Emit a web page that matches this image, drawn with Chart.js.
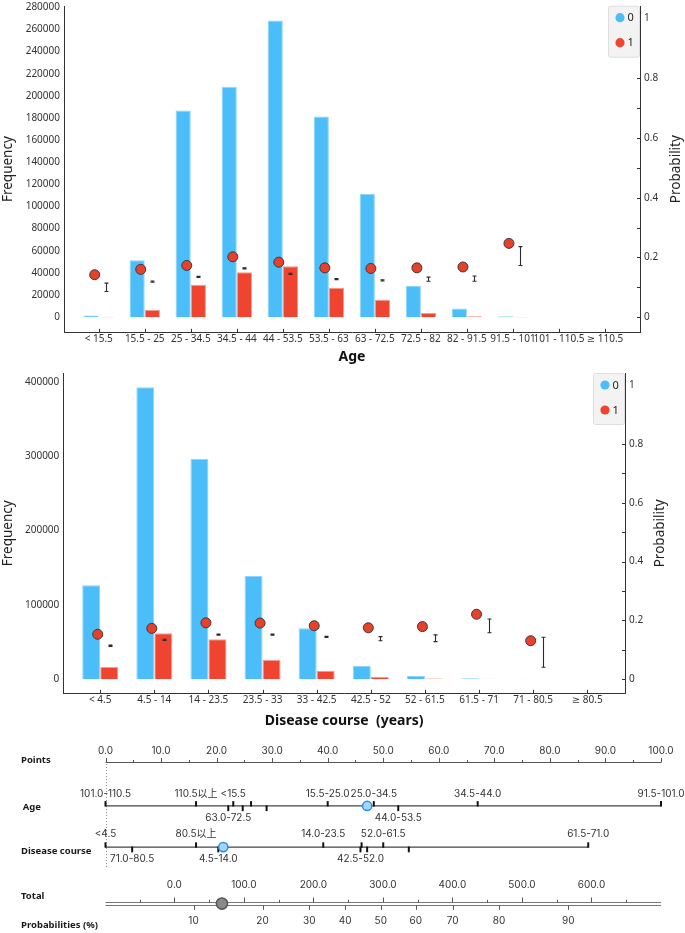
<!DOCTYPE html>
<html>
<head>
<meta charset="utf-8">
<script src="https://cdn.jsdelivr.net/npm/chart.js@4.4.1/dist/chart.umd.min.js"></script>
<style>
  html, body { margin:0; padding:0; background:#fff; }
  body { width:685px; height:933px; position:relative; overflow:hidden; }
  canvas { position:absolute; left:0; display:block; }
</style>
</head>
<body>
<canvas id="c1" width="685" height="365" style="top:0px"></canvas>
<canvas id="c2" width="685" height="365" style="top:365px"></canvas>
<canvas id="c3" width="685" height="203" style="top:730px"></canvas>
<script>
// ---------------- DATA ----------------
const ageCategories = ['< 15.5','15.5 - 25','25 - 34.5','34.5 - 44','44 - 53.5','53.5 - 63','63 - 72.5','72.5 - 82','82 - 91.5','91.5 - 101','101 - 110.5','≥ 110.5'];
const ageFreq0 = [1500, 51300, 186700, 208100, 268000, 181300, 111500, 28300, 7800, 700, 0, 0];
const ageFreq1 = [250, 6500, 29200, 40500, 45900, 26600, 15800, 3850, 900, 100, 0, 0];
const ageProb   = [0.142, 0.160, 0.173, 0.202, 0.184, 0.165, 0.163, 0.165, 0.168, 0.247, null, null];
const ageCILow  = [0.086, 0.117, 0.133, 0.161, 0.143, 0.125, 0.121, 0.120, 0.120, 0.173, null, null];
const ageCIHigh = [0.114, 0.121, 0.137, 0.165, 0.147, 0.129, 0.125, 0.134, 0.138, 0.236, null, null];
const ageFreqTicks = [0,20000,40000,60000,80000,100000,120000,140000,160000,180000,200000,220000,240000,260000,280000];

const courseCategories = ['< 4.5','4.5 - 14','14 - 23.5','23.5 - 33','33 - 42.5','42.5 - 52','52 - 61.5','61.5 - 71','71 - 80.5','≥ 80.5'];
const courseFreq0 = [126000, 392500, 296400, 138600, 68200, 17900, 4000, 1000, 200, 0];
const courseFreq1 = [16100, 61400, 53400, 25500, 11200, 2700, 600, 200, 50, 0];
const courseProb   = [0.153, 0.173, 0.192, 0.191, 0.182, 0.175, 0.179, 0.221, 0.131, null];
const courseCILow  = [0.112, 0.132, 0.150, 0.150, 0.142, 0.131, 0.128, 0.158, 0.041, null];
const courseCIHigh = [0.116, 0.136, 0.154, 0.154, 0.146, 0.145, 0.151, 0.205, 0.143, null];
const courseFreqTicks = [0, 100000, 200000, 300000, 400000];

const probTicks = [0, 0.2, 0.4, 0.6, 0.8, 1];
const probTickLabels = ['0','0.2','0.4','0.6','0.8','1'];
const probMinorTicks = [0.1, 0.3, 0.5, 0.7, 0.9];
const classLabels = ['0','1'];

// nomogram
const pointsTicks = [0,10,20,30,40,50,60,70,80,90,100];
const pointsMinorTicks = [5,15,25,35,45,55,65,75,85,95];
const ageNomoLabels = ['101.0-110.5','110.5以上','<15.5','63.0-72.5','','','','15.5-25.0','25.0-34.5','44.0-53.5','34.5-44.0','91.5-101.0'];
const ageNomoPoints = [0, 16.3, 23.0, 22.1, 24.7, 26.2, 29.0, 40.0, 48.3, 52.7, 67.0, 100];
const ageNomoSide   = ['up','up','up','down','down','up','down','up','up','down','up','up'];
const courseNomoLabels = ['<4.5','71.0-80.5','80.5以上','4.5-14.0','14.0-23.5','42.5-52.0','','','52.0-61.5','','61.5-71.0'];
const courseNomoPoints = [0, 4.8, 16.3, 20.3, 39.2, 45.9, 46.1, 47.1, 50.0, 54.6, 86.9];
const courseNomoSide   = ['up','down','up','down','up','down','up','down','up','down','up'];
const totalTicks = [0,100,200,300,400,500,600];
const totalMinorTicks = [-50,50,150,250,350,450,550,650];
const probPctLabels = [10,20,30,40,50,60,70,80,90];
const probPctAtTotal = [27.6,126.9,194,245.7,297,347.3,400.4,467,566.5];
const agePatientPoints = 47.1;
const coursePatientPoints = 21.2;
const patientTotal = 68.5;

// ---------------- STYLE ----------------
const FONT = '"Noto Sans", "DejaVu Sans", "Noto Sans CJK SC", sans-serif';
const NFONT = 'Inter, "DejaVu Sans", "Noto Sans CJK SC", sans-serif';
const BLUE = '#4bbdf8', RED = '#ee4430', RED_DOT = '#e8412b';
Chart.defaults.font.family = FONT;
Chart.defaults.color = '#333';

function distChart(id, o) {
  const plugin = {
    id: 'dist_' + id,
    afterDatasetsDraw(chart) {
      const ctx = chart.ctx, xs = chart.scales.x, ys = chart.scales.y1;
      ctx.save();
      ctx.strokeStyle = '#2a2a2a'; ctx.lineWidth = 1.1;
      o.lo.forEach((lo, i) => {
        const hi = o.hi[i];
        if (lo == null || hi == null) return;
        const x = Math.round(xs.getPixelForValue(i + o.errOff)) + 0.5;
        const y1 = ys.getPixelForValue(lo), y2 = ys.getPixelForValue(hi);
        ctx.beginPath();
        ctx.moveTo(x, y1); ctx.lineTo(x, y2);
        ctx.moveTo(x - 2, y1); ctx.lineTo(x + 2, y1);
        ctx.moveTo(x - 2, y2); ctx.lineTo(x + 2, y2);
        ctx.stroke();
      });
      ctx.restore();
    },
    afterDraw(chart) {
      const ctx = chart.ctx, xs = chart.scales.x, ys = chart.scales.y1, a = chart.chartArea;
      ctx.save();
      ctx.strokeStyle = '#333'; ctx.lineWidth = 1;
      ctx.beginPath();
      o.cats.forEach((c, i) => {
        const x = Math.round(xs.getPixelForValue(i)) + 0.5;
        ctx.moveTo(x, a.bottom); ctx.lineTo(x, a.bottom - 3.5);
      });
      probTicks.concat(probMinorTicks).forEach(v => {
        const y = Math.round(ys.getPixelForValue(v)) + 0.5;
        ctx.moveTo(a.right, y); ctx.lineTo(a.right - 3, y);
      });
      ctx.stroke();
      // right axis title
      ctx.save();
      ctx.translate(o.probTitleX, (a.top + a.bottom) / 2);
      ctx.rotate(-Math.PI / 2);
      ctx.fillStyle = '#222'; ctx.font = '13.5px ' + FONT;
      ctx.textAlign = 'center'; ctx.textBaseline = 'middle';
      ctx.fillText('Probability', 0, 0);
      ctx.restore();
      // legend
      const bw = 32, bh = 51, bx = a.right - bw, by = a.top - 0.3;
      ctx.fillStyle = '#f3f3f3'; ctx.strokeStyle = '#dedede';
      ctx.beginPath(); ctx.roundRect(bx + 0.5, by + 0.5, bw - 1, bh, 2); ctx.fill(); ctx.stroke();
      const cols = [BLUE, RED];
      chart.data.datasets.filter(d => d.type !== 'scatter').forEach((d, k) => {
        const cy = by + 12 + k * 25;
        ctx.fillStyle = cols[k];
        ctx.beginPath(); ctx.arc(bx + 12, cy, 4.6, 0, Math.PI * 2); ctx.fill();
        ctx.fillStyle = '#222'; ctx.font = '11px ' + FONT;
        ctx.textAlign = 'left'; ctx.textBaseline = 'middle';
        ctx.fillText(d.label, bx + 19.5, cy + 0.5);
      });
      ctx.restore();
    }
  };
  return new Chart(document.getElementById(id), {
    type: 'bar',
    data: {
      datasets: [
        { type: 'scatter', label: 'p', yAxisID: 'y1', xAxisID: 'x', order: 0,
          data: o.prob.map((p, i) => p == null ? null : { x: i + o.dotOff, y: p }).filter(Boolean),
          pointRadius: 5, pointHoverRadius: 5, backgroundColor: RED_DOT, borderColor: '#3a3a3a', borderWidth: 1, clip: false },
        { label: classLabels[0], yAxisID: 'y', xAxisID: 'x', order: 1,
          data: o.f0.map((v, i) => ({ x: i, y: v })),
          backgroundColor: BLUE, borderColor: '#8fd4fa', borderWidth: 1,
          categoryPercentage: o.catPct, barPercentage: 1 },
        { label: classLabels[1], yAxisID: 'y', xAxisID: 'x', order: 1,
          data: o.f1.map((v, i) => ({ x: i, y: v })),
          backgroundColor: RED, borderColor: '#f69a8b', borderWidth: 1,
          categoryPercentage: o.catPct, barPercentage: 1 }
      ]
    },
    options: {
      responsive: false, animation: false, devicePixelRatio: 1, events: [],
      layout: { padding: { top: o.padTop, bottom: o.padBottom, left: 0, right: 0 } },
      plugins: { legend: { display: false }, tooltip: { enabled: false } },
      scales: {
        x: { type: 'linear', min: o.xmin, max: o.xmax, offset: false,
             grid: { display: false, drawTicks: false }, border: { display: true, color: '#333', width: 1 },
             afterBuildTicks: s => { s.ticks = o.cats.map((_, i) => ({ value: i })); },
             ticks: { autoSkip: false, maxRotation: 0, minRotation: 0, padding: 1, color: '#333',
                      font: { size: 10, family: FONT }, callback: v => o.cats[v] ?? '' },
             title: { display: true, text: o.xTitle, color: '#111', font: { size: 14, weight: 'bold', family: FONT }, padding: 0 },
             afterFit: s => { s.height = o.xH; s.paddingLeft = 0; s.paddingRight = 0; } },
        y: { type: 'linear', position: 'left', min: o.ymin, max: o.ymax,
             grid: { display: false, drawTicks: false }, border: { display: true, color: '#333', width: 1 },
             afterBuildTicks: s => { s.ticks = o.freqTicks.map(v => ({ value: v })); },
             ticks: { padding: 4, color: '#333', font: { size: 10, family: FONT }, callback: v => String(v) },
             title: { display: true, text: 'Frequency', color: '#222', font: { size: 13.5, family: FONT }, padding: 0 },
             afterFit: s => { s.width = o.leftW; s.paddingTop = 0; s.paddingBottom = 0; } },
        y1: { type: 'linear', position: 'right', min: o.pmin, max: o.pmax,
              grid: { display: false, drawTicks: false }, border: { display: true, color: '#333', width: 1 },
              afterBuildTicks: s => { s.ticks = probTicks.map(v => ({ value: v })); },
              ticks: { padding: 4, color: '#333', font: { size: 10, family: FONT },
                       callback: (v, i) => probTickLabels[i] },
              afterFit: s => { s.width = o.rightW; s.paddingTop = 0; s.paddingBottom = 0; } }
      }
    },
    plugins: [plugin]
  });
}

distChart('c1', {
  cats: ageCategories, f0: ageFreq0, f1: ageFreq1, prob: ageProb, lo: ageCILow, hi: ageCIHigh,
  freqTicks: ageFreqTicks, xTitle: 'Age',
  xmin: -0.754, xmax: 11.76, ymin: -13700, ymax: 281160, pmin: -0.0508, pmax: 1.042,
  padTop: 3, padBottom: 0, xH: 32.7, leftW: 64, rightW: 45, catPct: 0.66,
  dotOff: -0.087, errOff: 0.163, probTitleX: 675.7
});
distChart('c2', {
  cats: courseCategories, f0: courseFreq0, f1: courseFreq1, prob: courseProb, lo: courseCILow, hi: courseCIHigh,
  freqTicks: courseFreqTicks, xTitle: 'Disease course  (years)',
  xmin: -0.682, xmax: 9.697, ymin: -19240, ymax: 411300, pmin: -0.0476, pmax: 1.0398,
  padTop: 8.3, padBottom: 1, xH: 35.7, leftW: 63.3, rightW: 60, catPct: 0.665,
  dotOff: -0.046, errOff: 0.178, probTitleX: 660.5
});

// ---------------- NOMOGRAM ----------------
const ROW = { pointsLbl: 15, points: 27.3, age: 74, ageUp: 61.7, ageDown: 86.7,
              course: 118.3, courseUp: 104, courseDown: 130.7,
              totalLbl: 159.3, totalTop: 177.3, totalBot: 180.7, totalMid: 179, probLbl: 197.3 };

const nomoPlugin = {
  id: 'nomo',
  beforeDatasetsDraw(chart) {
    const ctx = chart.ctx, X = chart.scales.x, T = chart.scales.x2, Y = chart.scales.y;
    const px = v => X.getPixelForValue(v), tx = v => T.getPixelForValue(v), py = v => Y.getPixelForValue(v);
    const smallFont = '10px ' + NFONT;
    function text(s, x, y, font, align, color) {
      ctx.font = font; ctx.fillStyle = color || '#333'; ctx.textAlign = align || 'center'; ctx.textBaseline = 'middle';
      ctx.fillText(s, x, y);
    }
    function hline(x1, x2, y, color, w) {
      ctx.strokeStyle = color; ctx.lineWidth = w;
      ctx.beginPath(); ctx.moveTo(x1, y); ctx.lineTo(x2, y); ctx.stroke();
    }
    function vtick(x, y1, y2, color, w) {
      ctx.strokeStyle = color; ctx.lineWidth = w;
      ctx.beginPath(); ctx.moveTo(x, y1); ctx.lineTo(x, y2); ctx.stroke();
    }
    ctx.save();
    // row titles
    const bold = 'bold 9.5px ' + FONT;
    text('Points', 21, 30, bold, 'left', '#1a1a1a');
    text('Age', 22.7, 77.7, bold, 'left', '#1a1a1a');
    text('Disease course', 21, 121.7, bold, 'left', '#1a1a1a');
    text('Total', 21, 166.7, bold, 'left', '#1a1a1a');
    text('Probabilities (%)', 21, 195, bold, 'left', '#1a1a1a');

    // points axis
    const yP = Math.round(py(ROW.points)) + 0.5;
    hline(px(X.min), px(X.max), yP, '#555', 1);
    pointsTicks.forEach(v => {
      const x = Math.round(px(v)) + 0.5;
      vtick(x, yP, yP - 4.5, '#555', 1);
      text(v.toFixed(1), px(v), py(ROW.pointsLbl), smallFont);
    });
    pointsMinorTicks.forEach(v => {
      const x = Math.round(px(v)) + 0.5;
      vtick(x, yP, yP - 2.5, '#555', 1);
    });

    // dotted reference line
    ctx.save();
    ctx.setLineDash([1, 2]);
    vtick(Math.round(px(0)) + 0.5, py(29), py(140), '#888', 1);
    ctx.restore();

    // variable rows
    function varRow(points, labels, sides, yRow, yUp, yDown) {
      const y = py(yRow);
      hline(px(Math.min(...points)), px(Math.max(...points)), y, '#444', 1.2);
      points.forEach((p, i) => {
        const x = px(p);
        if (sides[i] === 'up') vtick(x, y + 0.6, y - 4.8, '#111', 2);
        else vtick(x, y - 0.6, y + 5.2, '#111', 2);
        if (labels[i]) text(labels[i], x, py(sides[i] === 'up' ? yUp : yDown), smallFont);
      });
    }
    varRow(ageNomoPoints, ageNomoLabels, ageNomoSide, ROW.age, ROW.ageUp, ROW.ageDown);
    varRow(courseNomoPoints, courseNomoLabels, courseNomoSide, ROW.course, ROW.courseUp, ROW.courseDown);

    // total / probability axis
    const yT1 = Math.round(py(ROW.totalTop)) + 0.5, yT2 = Math.round(py(ROW.totalBot)) + 0.5;
    hline(tx(T.min), tx(T.max), yT1, '#777', 1);
    hline(tx(T.min), tx(T.max), yT2, '#777', 1);
    totalTicks.forEach(v => {
      const x = Math.round(tx(v)) + 0.5;
      vtick(x, yT1, yT1 - 5, '#555', 1);
      text(v.toFixed(1), tx(v), py(ROW.totalLbl), smallFont);
    });
    totalMinorTicks.forEach(v => {
      const x = Math.round(tx(v)) + 0.5;
      vtick(x, yT1, yT1 - 2.7, '#555', 1);
    });
    probPctAtTotal.forEach((t, i) => {
      const x = Math.round(tx(t)) + 0.5;
      vtick(x, yT2, yT2 + 4.3, '#555', 1);
      text(String(probPctLabels[i]), tx(t), py(ROW.probLbl), smallFont);
    });
    ctx.restore();
  }
};

new Chart(document.getElementById('c3'), {
  type: 'scatter',
  data: {
    datasets: [
      { data: [{ x: agePatientPoints, y: ROW.age }], xAxisID: 'x', yAxisID: 'y',
        pointRadius: 4.6, backgroundColor: '#a6d5ff', borderColor: '#2a8ef0', borderWidth: 1.5, clip: false },
      { data: [{ x: coursePatientPoints, y: ROW.course }], xAxisID: 'x', yAxisID: 'y',
        pointRadius: 4.6, backgroundColor: '#a6d5ff', borderColor: '#2a8ef0', borderWidth: 1.5, clip: false },
      { data: [{ x: patientTotal, y: ROW.totalMid }], xAxisID: 'x2', yAxisID: 'y',
        pointRadius: 5.6, backgroundColor: '#8a8a8a', borderColor: '#555', borderWidth: 1.5, clip: false }
    ]
  },
  options: {
    responsive: false, animation: false, devicePixelRatio: 1, events: [],
    layout: { padding: { left: 105.5, right: 24, top: 0, bottom: 0 } },
    plugins: { legend: { display: false }, tooltip: { enabled: false } },
    scales: {
      x: { type: 'linear', min: 0, max: 100, display: false },
      x2: { type: 'linear', min: -99, max: 700, display: false },
      y: { type: 'linear', min: 0, max: 203, reverse: true, display: false }
    }
  },
  plugins: [nomoPlugin]
});
</script>
</body>
</html>
